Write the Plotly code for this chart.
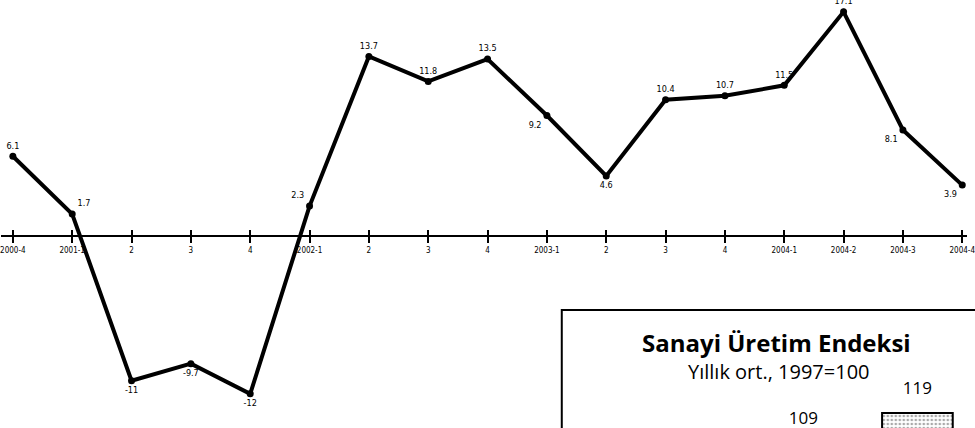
import plotly.graph_objects as go

# ---- data ----
quarters = ["2000-4", "2001-1", "2001-2", "2001-3", "2001-4", "2002-1", "2002-2", "2002-3",
            "2002-4", "2003-1", "2003-2", "2003-3", "2003-4", "2004-1", "2004-2", "2004-3", "2004-4"]
tick_labels = ["2000-4", "2001-1", "2", "3", "4", "2002-1", "2", "3", "4", "2003-1", "2", "3",
               "4", "2004-1", "2004-2", "2004-3", "2004-4"]
growth = [6.1, 1.7, -11, -9.7, -12, 2.3, 13.7, 11.8, 13.5, 9.2, 4.6, 10.4, 10.7, 11.5, 17.1, 8.1, 3.9]
value_labels = ["6.1", "1.7", "-11", "-9.7", "-12", "2.3", "13.7", "11.8", "13.5", "9.2", "4.6",
                "10.4", "10.7", "11.5", "17.1", "8.1", "3.9"]

inset_years = ["2003", "2004"]
inset_index = [109, 119]

inset_title = "Sanayi Üretim Endeksi"
inset_subtitle = "Yıllık ort., 1997=100"

# ---- styles ----
label_pos = ["top center", "top right", "bottom center", "bottom center", "bottom center",
             "top left", "top center", "top center", "top center", "bottom left", "bottom center",
             "top center", "top center", "top center", "top center", "bottom left", "bottom left"]
narrow = "Liberation Sans Narrow, DejaVu Sans Condensed, Arial Narrow, sans-serif"
W, H = 975, 428
y_range = [-14.6, 18.0]
x_range = [-0.2, 16.08]
axis_pos = (0 - y_range[0]) / (y_range[1] - y_range[0])
box_left = 566 / W
box_top = (H - 310) / H
inset_x_range = [-2.12, 1.435]
inset_y_range = [114, 153.33]
label_offset = 23 / 3.0  # value units: bar-label gap of 23 px at 3 px per unit

fig = go.Figure()

fig.add_trace(go.Scatter(
    x=quarters, y=growth, mode="lines+markers+text",
    text=value_labels, textposition=label_pos,
    textfont=dict(family=narrow, size=9, color="black"),
    line=dict(color="black", width=4),
    marker=dict(color="black", size=7),
    cliponaxis=False, showlegend=False, hoverinfo="skip",
))
# dummy trace so the overlay axis (inward ticks) is drawn
fig.add_trace(go.Scatter(x=quarters, y=growth, xaxis="x3", mode="none",
                         showlegend=False, hoverinfo="skip"))

# inset bars
fig.add_trace(go.Bar(
    x=inset_years, y=inset_index, xaxis="x2", yaxis="y2",
    width=0.62,
    marker=dict(color="white", line=dict(color="black", width=2),
                pattern=dict(shape=".", fgcolor="#555555", size=4, solidity=0.35)),
    showlegend=False, hoverinfo="skip",
))
# inset value labels on a companion axis shifted by the label gap
fig.add_trace(go.Scatter(
    x=inset_years, y=inset_index, xaxis="x4", yaxis="y4",
    mode="text", text=[str(v) for v in inset_index], textposition="middle center",
    textfont=dict(family="Open Sans, sans-serif", size=17, color="black"),
    cliponaxis=False, showlegend=False, hoverinfo="skip",
))

fig.update_layout(
    width=W, height=H,
    margin=dict(l=0, r=0, t=0, b=0),
    paper_bgcolor="white", plot_bgcolor="rgba(0,0,0,0)",
    xaxis=dict(
        domain=[0, 1], range=x_range, type="category",
        anchor="free", position=axis_pos,
        showline=True, linecolor="black", linewidth=1.5,
        ticks="outside", ticklen=6, tickwidth=1.5, tickcolor="black",
        tickvals=quarters, ticktext=tick_labels,
        tickfont=dict(family=narrow, size=8, color="black"),
        showgrid=False, zeroline=False,
    ),
    xaxis3=dict(
        overlaying="x", range=x_range, type="category",
        anchor="free", position=axis_pos,
        ticks="inside", ticklen=6, tickwidth=1.5, tickcolor="black",
        tickvals=quarters, showticklabels=False, showline=False, showgrid=False,
        zeroline=False,
    ),
    yaxis=dict(domain=[0, 1], range=y_range, visible=False),
    xaxis2=dict(domain=[box_left, 1], range=inset_x_range, type="category",
                anchor="y2", visible=False),
    yaxis2=dict(domain=[0, box_top], range=inset_y_range, anchor="x2", visible=False),
    xaxis4=dict(domain=[box_left, 1], range=inset_x_range, type="category",
                anchor="y4", visible=False),
    yaxis4=dict(domain=[0, box_top],
                range=[inset_y_range[0] - label_offset, inset_y_range[1] - label_offset],
                anchor="x4", visible=False),
    shapes=[dict(type="rect", xref="paper", yref="paper",
                 x0=box_left, x1=1.02, y0=-0.05, y1=box_top,
                 line=dict(color="black", width=2), fillcolor="rgba(0,0,0,0)", layer="above")],
    annotations=[
        dict(text="<b>" + inset_title + "</b>", xref="paper", yref="paper",
             x=783 / W, y=1 - 342 / H, xanchor="center", yanchor="middle", showarrow=False,
             font=dict(family="Open Sans, sans-serif", size=24, color="black")),
        dict(text=inset_subtitle, xref="paper", yref="paper",
             x=785 / W, y=1 - 371 / H, xanchor="center", yanchor="middle", showarrow=False,
             font=dict(family="Open Sans, sans-serif", size=20, color="black")),
    ],
)

fig.write_html(
    "out.html",
    config={"displayModeBar": False},
    post_script="document.body.style.margin='0';document.documentElement.style.overflow='hidden';",
)
